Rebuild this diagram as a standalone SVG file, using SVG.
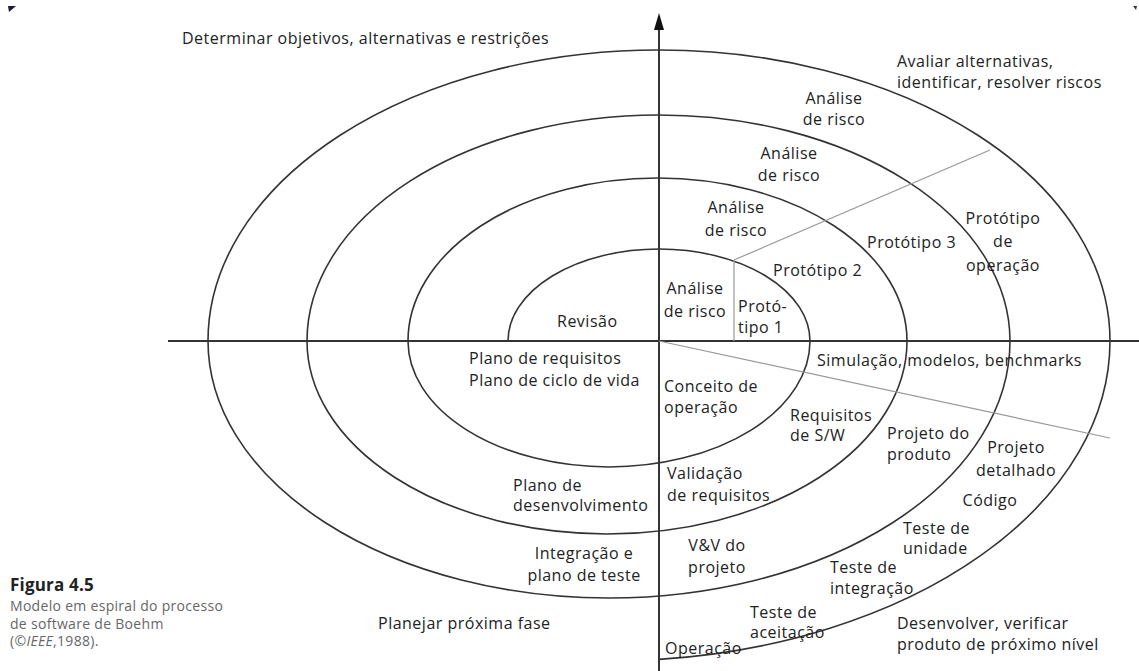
<svg xmlns="http://www.w3.org/2000/svg" width="1139" height="671" viewBox="0 0 1139 671">
<style>
text{font-family:"Open Sans","DejaVu Sans",sans-serif;font-size:16px;letter-spacing:0.5px;fill:#222}
.m{text-anchor:middle}
.cap{fill:#666;font-size:14px;letter-spacing:0.3px}
.fig{font-weight:bold;font-size:17px;letter-spacing:0.2px;fill:#222}
.axis{stroke:#333;stroke-width:2;fill:none}
.sp{stroke:#333;stroke-width:1.6;fill:none}
.gl{stroke:#999;stroke-width:1.2;fill:none}
</style>
<rect width="1139" height="671" fill="#fff"/>
<polygon points="8,6 16,6 9,12" fill="#1a1a40"/>
<polygon points="1133,6 1137,6 1136,10" fill="#333"/>
<g id="connectors">
<line class="axis" x1="168" y1="341" x2="1139" y2="341"/>
<line class="axis" x1="659" y1="28" x2="659" y2="671"/>
<polygon points="659,13 654,30 664,30" fill="#111"/>
<path class="sp" d="M508 341 A151 92 0 0 1 810 341 A201 126 0 0 1 408 341 A249.5 163 0 0 1 907 341 A300 193 0 0 1 307 341 A351.5 226 0 0 1 1010 341 A401 257 0 0 1 208 341 A451 291 0 0 1 1110 341 A501 320 0 0 1 659 659.4"/>
<line class="gl" x1="659" y1="341" x2="1110" y2="438"/>
<line class="gl" x1="734" y1="260" x2="734" y2="341"/>
<line class="gl" x1="734" y1="260" x2="990" y2="150"/>
</g>
<g id="quadrant-labels">
<text x="182" y="44">Determinar objetivos, alternativas e restrições</text>
<text x="897" y="67">Avaliar alternativas,</text>
<text x="897" y="88">identificar, resolver riscos</text>
<text x="897" y="629">Desenvolver, verificar</text>
<text x="897" y="650">produto de próximo nível</text>
<text x="378" y="629">Planejar próxima fase</text>
</g>
<g id="risk-analysis">
<text class="m" x="834" y="104">Análise</text>
<text class="m" x="834" y="125">de risco</text>
<text class="m" x="789" y="159">Análise</text>
<text class="m" x="789" y="181">de risco</text>
<text class="m" x="736" y="213">Análise</text>
<text class="m" x="736" y="236">de risco</text>
<text class="m" x="695" y="294">Análise</text>
<text class="m" x="695" y="317">de risco</text>
</g>
<g id="prototypes">
<text x="738" y="312">Protó-</text>
<text x="738" y="333">tipo 1</text>
<text x="773" y="276">Protótipo 2</text>
<text x="867" y="248">Protótipo 3</text>
<text class="m" x="1003" y="224">Protótipo</text>
<text class="m" x="1003" y="247">de</text>
<text class="m" x="1003" y="271">operação</text>
</g>
<g id="planning">
<text x="557" y="327">Revisão</text>
<text x="469" y="364">Plano de requisitos</text>
<text x="469" y="386">Plano de ciclo de vida</text>
<text x="513" y="491">Plano de</text>
<text x="513" y="511">desenvolvimento</text>
<text class="m" x="584" y="559">Integração e</text>
<text class="m" x="584" y="581">plano de teste</text>
</g>
<g id="development">
<text x="817" y="366">Simulação, modelos, benchmarks</text>
<text x="664" y="392">Conceito de</text>
<text x="664" y="413">operação</text>
<text x="790" y="421">Requisitos</text>
<text x="790" y="441">de S/W</text>
<text x="887" y="439">Projeto do</text>
<text x="887" y="460">produto</text>
<text class="m" x="1016" y="453">Projeto</text>
<text class="m" x="1016" y="476">detalhado</text>
<text class="m" x="990" y="506">Código</text>
<text x="903" y="534">Teste de</text>
<text x="903" y="554">unidade</text>
<text x="830" y="573">Teste de</text>
<text x="830" y="594">integração</text>
<text x="750" y="618">Teste de</text>
<text x="750" y="638">aceitação</text>
<text x="665" y="654">Operação</text>
<text x="667" y="479">Validação</text>
<text x="667" y="501">de requisitos</text>
<text class="m" x="717" y="551">V&amp;V do</text>
<text class="m" x="717" y="573">projeto</text>
</g>
<g id="caption">
<text class="fig" x="10" y="591">Figura 4.5</text>
<text class="cap" x="10" y="611">Modelo em espiral do processo</text>
<text class="cap" x="10" y="629">de software de Boehm</text>
<text class="cap" x="10" y="646">(©<tspan font-style="italic">IEEE</tspan>,1988).</text>
</g>
</svg>
